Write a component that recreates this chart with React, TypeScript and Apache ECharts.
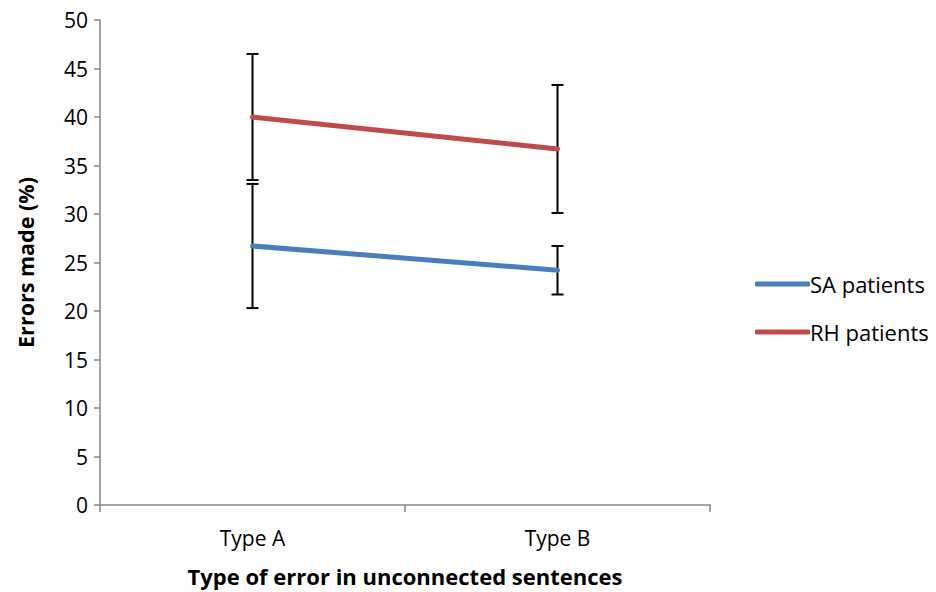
import React, { useEffect, useRef } from "react";
import * as echarts from "echarts";

const categories = ["Type A", "Type B"];
const seriesNames = ["SA patients", "RH patients"];
const saValues = [26.7, 24.2];
const rhValues = [40.0, 36.7];
const saLow = [20.3, 21.7];
const saHigh = [33.1, 26.7];
const rhLow = [33.5, 30.1];
const rhHigh = [46.5, 43.3];
const yTicks = { min: 0, max: 50, interval: 5 };

const FONT = "Open Sans";

export default function App() {
  const ref = useRef<HTMLDivElement>(null);
  useEffect(() => {
    if (!ref.current) return;
    document.body.style.margin = "0";
    const chart = echarts.init(ref.current, undefined, { renderer: "svg" });
    const errData: number[][] = [];
    categories.forEach((_, i) => {
      errData.push([i, saLow[i], saHigh[i]]);
      errData.push([i, rhLow[i], rhHigh[i]]);
    });
    const renderErr = (params: any, api: any) => {
      const x = api.value(0);
      const lo = api.coord([x, api.value(1)]);
      const hi = api.coord([x, api.value(2)]);
      const half = 6;
      const style = { stroke: "#000", lineWidth: 2 };
      return {
        type: "group",
        children: [
          { type: "line", shape: { x1: lo[0], y1: lo[1], x2: hi[0], y2: hi[1] }, style },
          { type: "line", shape: { x1: lo[0] - half, y1: lo[1], x2: lo[0] + half, y2: lo[1] }, style },
          { type: "line", shape: { x1: hi[0] - half, y1: hi[1], x2: hi[0] + half, y2: hi[1] }, style },
        ],
      };
    };
    chart.setOption({
      animation: false,
      backgroundColor: "#fff",
      grid: { left: 100, right: 226, top: 20, bottom: 87 },
      legend: {
        orient: "vertical",
        left: 750,
        top: 268,
        itemGap: 26,
        itemWidth: 55,
        itemHeight: 5,
        icon: "roundRect",
        data: seriesNames,
        textStyle: { fontFamily: FONT, fontSize: 22, color: "#000", padding: [0, 0, 0, -5] },
      },
      xAxis: {
        type: "category",
        data: categories,
        boundaryGap: true,
        name: "Type of error in unconnected sentences",
        nameLocation: "middle",
        nameGap: 60,
        nameTextStyle: { fontFamily: FONT, fontSize: 22, fontWeight: "bold", color: "#000" },
        axisLine: { lineStyle: { color: "#868686", width: 1.5 } },
        axisTick: { show: true, length: 7, lineStyle: { color: "#868686", width: 1.5 } },
        axisLabel: { fontFamily: FONT, fontSize: 21, color: "#000", margin: 22 },
        splitLine: { show: false },
      },
      yAxis: {
        type: "value",
        min: yTicks.min,
        max: yTicks.max,
        interval: yTicks.interval,
        name: "Errors made (%)",
        nameLocation: "middle",
        nameGap: 64,
        nameRotate: 90,
        nameTextStyle: { fontFamily: FONT, fontSize: 21.5, fontWeight: "bold", color: "#000" },
        axisLine: { show: true, lineStyle: { color: "#868686", width: 1.5 } },
        axisTick: { show: true, length: 6, lineStyle: { color: "#868686", width: 1.5 } },
        axisLabel: { fontFamily: FONT, fontSize: 21, color: "#000", margin: 12 },
        splitLine: { show: false },
      },
      series: [
        {
          type: "custom",
          name: "err",
          renderItem: renderErr,
          data: errData,
          z: 1,
          silent: true,
        },
        {
          type: "line",
          name: seriesNames[0],
          data: saValues,
          showSymbol: false,
          symbol: "none",
          lineStyle: { color: "#4A7EBB", width: 5, cap: "round" },
          itemStyle: { color: "#4A7EBB" },
          z: 3,
        },
        {
          type: "line",
          name: seriesNames[1],
          data: rhValues,
          showSymbol: false,
          symbol: "none",
          lineStyle: { color: "#BE4B48", width: 5, cap: "round" },
          itemStyle: { color: "#BE4B48" },
          z: 3,
        },
      ],
    });
    return () => chart.dispose();
  }, []);
  return <div ref={ref} style={{ width: 936, height: 592 }} />;
}
